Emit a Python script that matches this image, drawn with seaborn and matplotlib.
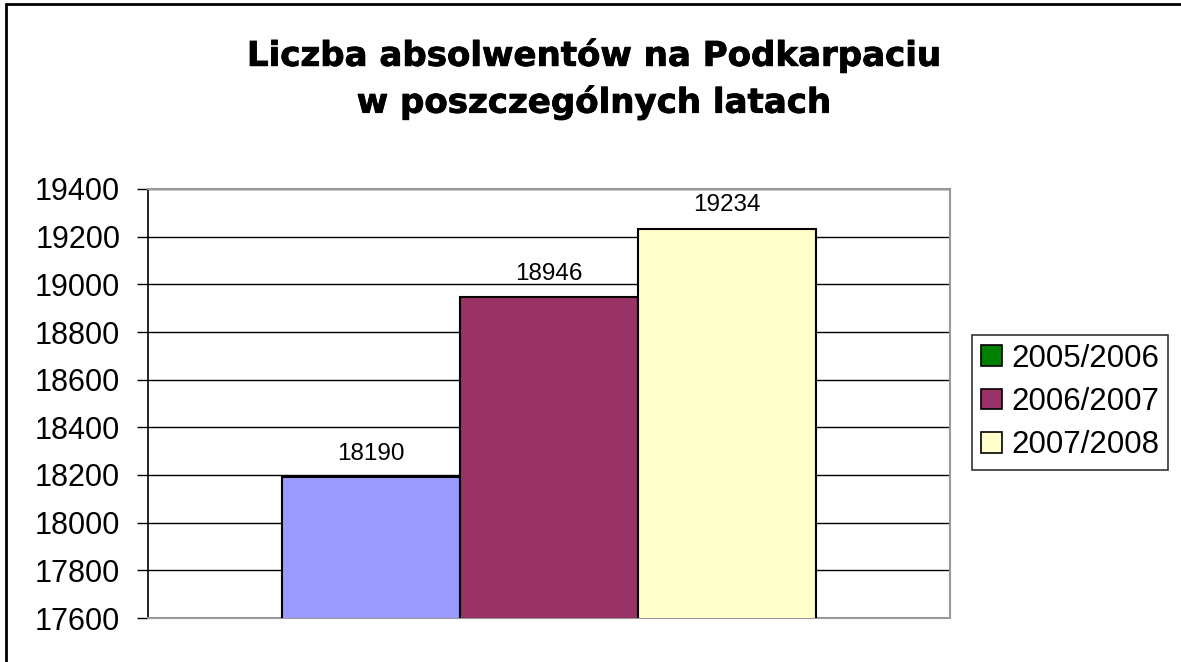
import pandas as pd
import seaborn as sns
from matplotlib import pyplot as plt
from matplotlib.patches import Patch
from matplotlib.lines import Line2D
import matplotlib.patheffects as pe

# dane
lata = ['2005/2006', '2006/2007', '2007/2008']
absolwenci = [18190, 18946, 19234]
kolory_slupkow = ['#9999FF', '#993366', '#FFFFCC']
kolory_legendy = ['#008000', '#993366', '#FFFFCC']
y_ticks = [17600, 17800, 18000, 18200, 18400, 18600, 18800, 19000, 19200, 19400]

df = pd.DataFrame({'grupa': ['Podkarpacie'] * len(lata),
                   'rok': lata,
                   'liczba': absolwenci})

sns.set_style('white')
plt.rcParams['font.family'] = ['Liberation Sans', 'DejaVu Sans']
plt.rcParams['text.color'] = 'black'
plt.rcParams['ytick.color'] = 'black'
plt.rcParams['xtick.color'] = 'black'
plt.rcParams['axes.labelcolor'] = 'black'

fig = plt.figure(figsize=(11.81, 6.62), dpi=100)
ax = fig.add_axes([148 / 1181, 1 - 618 / 662, 802 / 1181, 429 / 662])

g = sns.barplot(data=df, x='grupa', y='liczba', hue='rok',
                palette=kolory_slupkow, width=0.666, edgecolor='black',
                linewidth=1.5, saturation=1, legend=False, ax=ax, zorder=3)

for cont in ax.containers:
    ax.bar_label(cont, fmt='%d', padding=9, fontsize=17.5, color='black')

ax.set_ylim(17600, 19400)
ax.set_xlim(-0.5, 0.5)
ax.set_yticks(y_ticks)
ax.set_yticklabels([str(t) for t in y_ticks], fontsize=22)
ax.set_xticks([])
ax.set_xlabel('')
ax.set_ylabel('')
ax.yaxis.grid(True, color='black', linewidth=1)
ax.set_axisbelow(True)
ax.tick_params(axis='y', direction='out', length=8, width=1, color='black',
               left=True, pad=12, labelcolor='black')
for side in ['top', 'right', 'bottom']:
    ax.spines[side].set_color('#999999')
    ax.spines[side].set_linewidth(1.5)
ax.spines['left'].set_color('black')
ax.spines['left'].set_linewidth(1.2)

uchwyty = [Patch(facecolor=c, edgecolor='black', linewidth=1.2)
           for c in kolory_legendy]
leg = fig.legend(uchwyty, lata, loc='center left',
                 bbox_to_anchor=(972 / 1181, 1 - 402 / 662), fontsize=22.5,
                 frameon=True, fancybox=False, edgecolor='black',
                 handlelength=0.65, handleheight=0.65, handletextpad=0.3,
                 labelspacing=0.42, borderpad=0.3, borderaxespad=0)
leg.get_frame().set_linewidth(1.2)
for t in leg.get_texts():
    t.set_color('black')

fig.text(0.503, 1 - 79 / 662,
         'Liczba absolwentów na Podkarpaciu\nw poszczególnych latach',
         ha='center', va='center', fontsize=24.5, fontweight='bold',
         family=['DejaVu Sans'], linespacing=1.45, color='black',
         path_effects=[pe.withStroke(linewidth=0.6, foreground='black')])

# ramka wykresu
fig.add_artist(Line2D([6 / 1181, 1], [1 - 4 / 662, 1 - 4 / 662],
                      color='black', linewidth=2, transform=fig.transFigure))
fig.add_artist(Line2D([6 / 1181, 6 / 1181], [0, 1 - 4 / 662],
                      color='black', linewidth=2, transform=fig.transFigure))

fig.savefig('out.png', dpi=100)
plt.close()
